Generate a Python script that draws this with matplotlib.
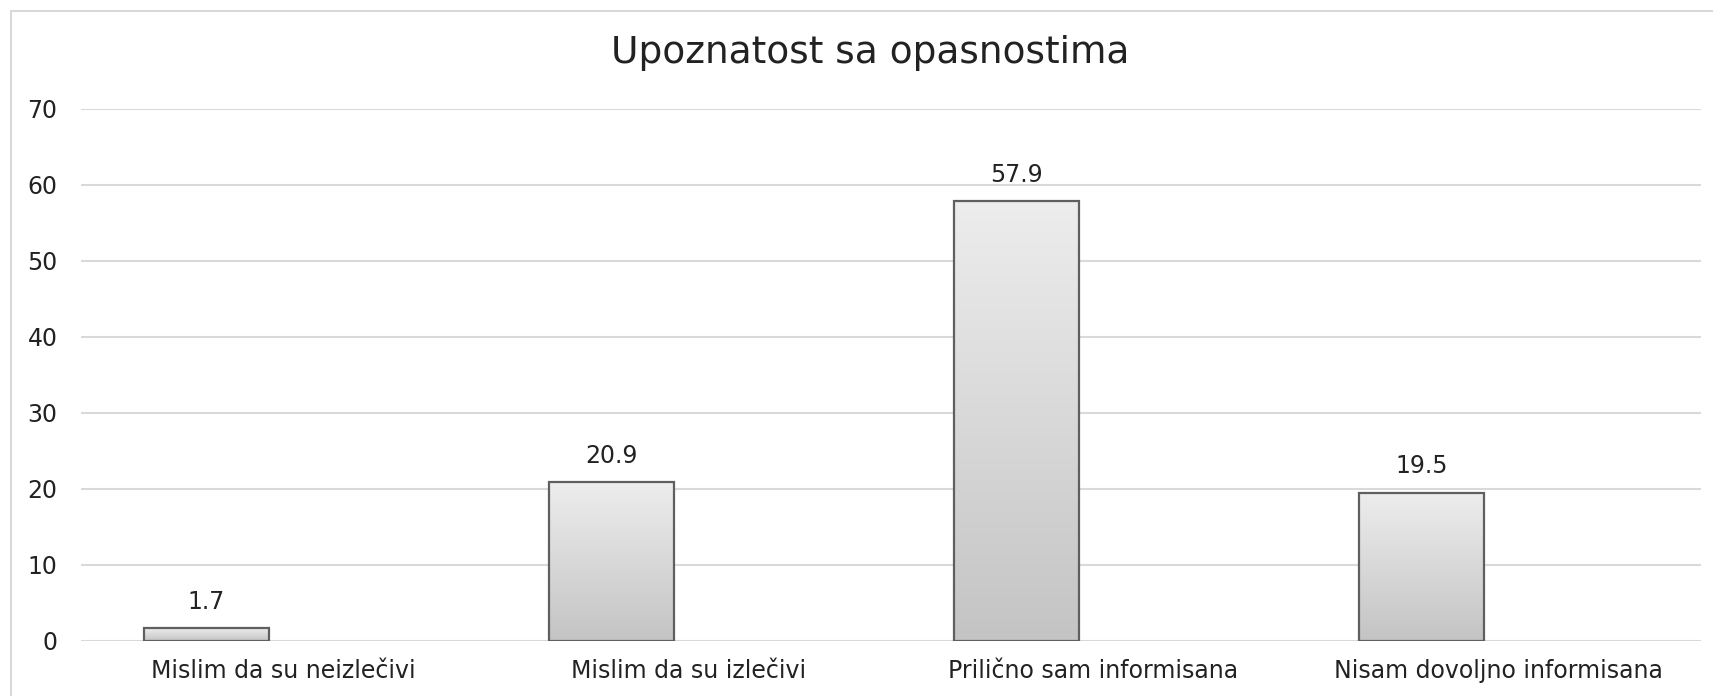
import numpy as np
import matplotlib
matplotlib.use("Agg")
import matplotlib.pyplot as plt
from matplotlib.patches import Rectangle

# data
categories = ["Mislim da su neizlečivi", "Mislim da su izlečivi",
              "Prilično sam informisana", "Nisam dovoljno informisana"]
values = [1.7, 20.9, 57.9, 19.5]
yticks = [0, 10, 20, 30, 40, 50, 60, 70]
title = "Upoznatost sa opasnostima"

W, H, DPI = 1713, 696, 100
plt.rcParams['font.family'] = ['DejaVu Sans']

fig = plt.figure(figsize=(W / DPI, H / DPI), dpi=DPI)

# light outer border of the chart area (cut off at right / bottom)
fig.patches.append(Rectangle((11 / W, -0.1), 1.2, 1 - 11 / H + 0.1,
                             transform=fig.transFigure, fill=False,
                             edgecolor="#d9d9d9", linewidth=1.5))

ax = fig.add_axes([81 / W, 55 / H, 1620 / W, 532 / H])

# grid
for t in yticks:
    ax.axhline(t, color="#d9d9d9", linewidth=1.5, zorder=0)

x = np.arange(len(categories)) - 0.19
bar_w = 0.31

# gradient fill for each bar
grad = np.linspace(0, 1, 256).reshape(-1, 1)
cmap = matplotlib.colors.LinearSegmentedColormap.from_list("g", ["#ededed", "#c4c4c4"])

bars = ax.bar(x, values, width=bar_w, facecolor="none",
              edgecolor="#5f5f5f", linewidth=1.6, zorder=3)
for b, v in zip(bars, values):
    bx, by = b.get_x(), b.get_y()
    im = ax.imshow(grad, cmap=cmap, aspect="auto", origin="upper",
                   extent=[bx, bx + b.get_width(), by, by + v], zorder=2)
    im.set_clip_path(b)
    ax.annotate(f"{v}", (b.get_x() + b.get_width() / 2, v),
                xytext=(0, 19), textcoords="offset points",
                ha="center", va="center", fontsize=17, color="#222222")
ax.set_xlim(-0.5, 3.5)
ax.set_ylim(0, 70)

ax.set_xticks(range(len(categories)))
ax.set_xticklabels(categories, fontsize=17, color="#222222")
ax.set_yticks(yticks)
ax.set_yticklabels([str(t) for t in yticks], fontsize=17, color="#222222")
ax.tick_params(axis="x", length=0, pad=13)
ax.tick_params(axis="y", length=0, pad=17)
for s in ax.spines.values():
    s.set_visible(False)

fig.text(870 / W, 1 - 53 / H, title, ha="center", va="center",
         fontsize=27, color="#222222")

fig.savefig("out.png", dpi=DPI, facecolor="white")
